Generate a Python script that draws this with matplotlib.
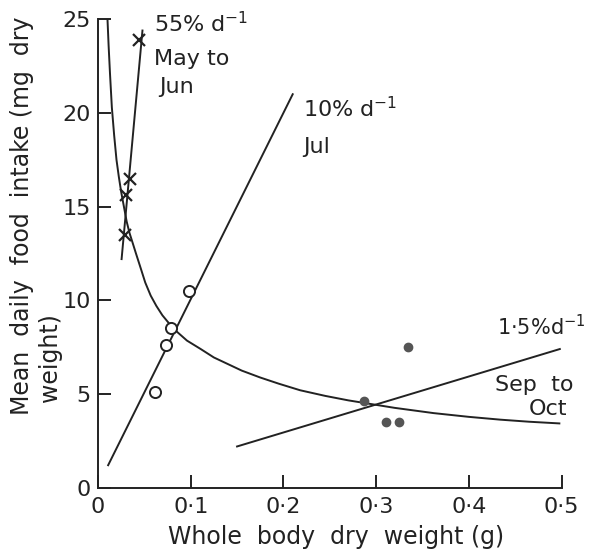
import numpy as np
import matplotlib
matplotlib.use("Agg")
import matplotlib.pyplot as plt

# data
# May to Jun (crosses)
may_x = [0.0347, 0.030, 0.029, 0.0443]
may_y = [16.5, 15.6, 13.5, 23.9]
# Jul (open circles)
jul_x = [0.098, 0.079, 0.073, 0.062]
jul_y = [10.5, 8.5, 7.6, 5.1]
# Sep to Oct (filled dots)
sep_x = [0.334, 0.287, 0.311, 0.325]
sep_y = [7.5, 4.6, 3.5, 3.5]

# growth-rate lines (end points)
line55_x = [0.0255, 0.048]
line55_y = [12.2, 24.4]
line10_x = [0.011, 0.21]
line10_y = [1.2, 21.0]
line15_x = [0.15, 0.498]
line15_y = [2.2, 7.4]

# fitted intake curve
curve_x = [0.0103, 0.0115, 0.0130, 0.0150, 0.0175, 0.0200, 0.0225, 0.0250, 0.0280,
           0.0310, 0.0340, 0.0372, 0.0410, 0.0462, 0.0510, 0.0569, 0.0630, 0.0695,
           0.0770, 0.0857, 0.0960, 0.1108, 0.1250, 0.1400, 0.1550, 0.1750, 0.1950,
           0.2180, 0.2450, 0.2700, 0.2900, 0.3200, 0.3620, 0.4000, 0.4340, 0.4650,
           0.4975]
curve_y = [25.0, 23.6, 22.1, 20.3, 18.8, 17.5, 16.6, 15.8, 15.0,
           14.2, 13.6, 13.1, 12.5, 11.7, 10.95, 10.25, 9.7, 9.2,
           8.75, 8.3, 7.85, 7.4, 6.95, 6.6, 6.25, 5.88, 5.55,
           5.2, 4.9, 4.66, 4.5, 4.26, 3.98, 3.78, 3.63, 3.52,
           3.43]

xticks = [0, 0.1, 0.2, 0.3, 0.4, 0.5]
xticklabels = ["0", "0·1", "0·2", "0·3", "0·4", "0·5"]
yticks = [0, 5, 10, 15, 20, 25]

fs = 16
plt.rcParams['font.family'] = 'DejaVu Sans'

fig = plt.figure(figsize=(5.9, 5.54), dpi=100)
ax = fig.add_axes([0.166, 0.1197, 0.786, 0.8455])

lw = 1.4
ax.plot(curve_x, curve_y, color='#222222', lw=lw)
ax.plot(line55_x, line55_y, color='#222222', lw=lw)
ax.plot(line10_x, line10_y, color='#222222', lw=lw)
ax.plot(line15_x, line15_y, color='#222222', lw=lw)

ax.plot(may_x, may_y, ls='none', marker='x', ms=8, mew=1.6, color='#222222')
ax.plot(jul_x, jul_y, ls='none', marker='o', ms=8, mew=1.4, mfc='white', mec='#222222')
ax.plot(sep_x, sep_y, ls='none', marker='o', ms=6, color='#555555')

ax.set_xlim(0, 0.5)
ax.set_ylim(0, 25)
ax.set_xticks(xticks)
ax.set_xticklabels(xticklabels)
ax.set_yticks(yticks)
ax.tick_params(direction='in', length=9.5, width=lw, labelsize=fs, colors='#222222')
ax.tick_params(axis='x', pad=7)
ax.tick_params(axis='y', pad=5)
for s in ['top', 'right']:
    ax.spines[s].set_visible(False)
for s in ['left', 'bottom']:
    ax.spines[s].set_linewidth(lw)
    ax.spines[s].set_color('#222222')

tc = '#222222'
ax.text(0.0602, 24.3, "55% d$^{-1}$", fontsize=fs, color=tc, va='baseline')
ax.text(0.0602, 22.55, "May to", fontsize=fs, color=tc, va='baseline')
ax.text(0.0656, 21.05, "Jun", fontsize=fs, color=tc, va='baseline')
ax.text(0.2215, 19.76, "10% d$^{-1}$", fontsize=fs, color=tc, va='baseline')
ax.text(0.2215, 17.87, "Jul", fontsize=fs, color=tc, va='baseline')
ax.text(0.430, 8.14, "1·5%d$^{-1}$", fontsize=15, color=tc, va='baseline')
ax.text(0.4276, 5.17, "Sep  to", fontsize=fs, color=tc, va='baseline')
ax.text(0.464, 3.88, "Oct", fontsize=fs, color=tc, va='baseline')

fig.text(336 / 590, 1 - 537 / 554, "Whole  body  dry  weight (g)", fontsize=17,
         color=tc, ha='center', va='center')
fig.text(22 / 590, 1 - 415 / 554, "Mean  daily  food  intake (mg  dry", fontsize=17,
         color=tc, ha='center', va='bottom', rotation=90)
fig.text(50 / 590, 1 - 402 / 554, "weight)", fontsize=17,
         color=tc, ha='center', va='bottom', rotation=90)

fig.savefig("out.png", dpi=100)
